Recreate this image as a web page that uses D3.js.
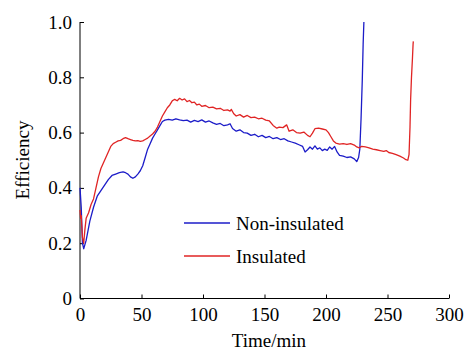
<!DOCTYPE html>
<html>
<head>
<meta charset="utf-8">
<script src="https://cdn.jsdelivr.net/npm/d3@7"></script>
<style>
html,body{margin:0;padding:0;background:#fff;}
svg{display:block;}
</style>
</head>
<body>
<svg id="chart" width="469" height="351" style="font-family:'Liberation Serif','Times New Roman',serif;font-size:19px"></svg>
<script>
// ---- data ----
const xTicks = [0, 50, 100, 150, 200, 250, 300];
const yTicks = [0, 0.2, 0.4, 0.6, 0.8, 1.0];
const yTickLabels = ["0", "0.2", "0.4", "0.6", "0.8", "1.0"];
const seriesNames = ["Non-insulated", "Insulated"];

const nonInsTime = [0,1,2,3,5,8,11,14,17,20,23,26,29,32,35,37,39,41,43,45,47,49,51,53,55,57,59,61,63,65,67,69,72,75,78,81,84,87,90,93,96,99,102,105,108,111,114,117,120,122,124,127,130,133,136,139,142,145,148,151,154,157,160,163,166,169,172,175,178,181,183,185,187,189,191,193,195,197,199,201,203,205,207,209,211,214,217,220,223,225,226.5,227.5,228.5,229.5,230.2,230.8];
const nonInsEff = [0.40,0.33,0.20,0.18,0.21,0.28,0.33,0.37,0.39,0.41,0.43,0.445,0.45,0.455,0.458,0.455,0.45,0.44,0.435,0.44,0.45,0.462,0.48,0.51,0.54,0.56,0.58,0.595,0.61,0.625,0.64,0.645,0.648,0.645,0.65,0.646,0.643,0.645,0.638,0.644,0.64,0.646,0.638,0.642,0.635,0.63,0.633,0.625,0.628,0.632,0.615,0.605,0.61,0.60,0.598,0.59,0.594,0.585,0.59,0.582,0.586,0.578,0.582,0.575,0.578,0.57,0.566,0.562,0.556,0.55,0.53,0.538,0.548,0.54,0.552,0.54,0.545,0.535,0.54,0.536,0.548,0.54,0.55,0.53,0.518,0.515,0.51,0.512,0.505,0.495,0.51,0.54,0.65,0.79,0.92,1.0];

const insTime = [0,0.5,1,2,3,4,5,7,9,11,13,15,17,19,21,23,25,27,29,31,33,35,37,39,41,43,45,47,49,51,53,55,57,59,61,63,65,67,69,71,73,75,77,79,81,83,85,87,89,91,93,95,97,99,102,105,108,111,114,117,120,122,123,125,127,130,133,136,139,142,145,148,151,154,157,160,162,165,168,170,173,176,179,182,185,187,189,191,194,197,200,202,204,206,208,211,214,217,220,223,225,227,229,232,235,238,241,244,247,249,251,254,257,260,263,265,266.5,267.5,268.3,268.8,269.5,270.3,270.8,271];
const insEff = [0.32,0.29,0.30,0.22,0.20,0.25,0.29,0.31,0.34,0.36,0.40,0.44,0.47,0.49,0.51,0.53,0.55,0.56,0.565,0.57,0.572,0.578,0.582,0.578,0.575,0.572,0.57,0.571,0.568,0.57,0.575,0.58,0.588,0.595,0.605,0.62,0.64,0.66,0.675,0.69,0.70,0.715,0.72,0.715,0.724,0.718,0.722,0.712,0.716,0.708,0.71,0.70,0.703,0.695,0.698,0.69,0.692,0.686,0.688,0.68,0.682,0.678,0.684,0.668,0.66,0.665,0.656,0.662,0.654,0.656,0.65,0.652,0.645,0.642,0.626,0.616,0.62,0.618,0.628,0.605,0.61,0.60,0.598,0.602,0.59,0.585,0.598,0.614,0.616,0.613,0.61,0.60,0.585,0.57,0.562,0.558,0.56,0.557,0.56,0.555,0.548,0.545,0.55,0.548,0.545,0.54,0.538,0.535,0.532,0.535,0.528,0.525,0.52,0.515,0.508,0.502,0.50,0.52,0.62,0.72,0.80,0.87,0.92,0.93];

const colors = ["#1c1cc8", "#e02424"];
const serif = "'Liberation Serif','Times New Roman',serif";

// ---- drawing ----
const svg = d3.select("#chart");
const x = d3.scaleLinear().domain([0, 300]).range([80, 449]);
const y = d3.scaleLinear().domain([0, 1]).range([298.5, 22]);

const xAxis = d3.axisBottom(x).tickValues(xTicks).tickSize(-4).tickPadding(9).tickFormat(d3.format("d"));
const gx = svg.append("g").attr("transform", `translate(0,${y(0)})`).call(xAxis);
gx.attr("font-family", serif).attr("font-size", 19);
gx.selectAll("text").style("font-family", serif).style("font-size", "19px").attr("fill", "#000");
gx.select(".domain").attr("d", `M${x(0)},0H${x(300)}`).attr("stroke", "#000");

const yAxis = d3.axisLeft(y).tickValues(yTicks).tickSize(-4).tickPadding(8).tickFormat((d, i) => yTickLabels[i]);
const gy = svg.append("g").attr("transform", `translate(${x(0)},0)`).call(yAxis);
gy.attr("font-family", serif).attr("font-size", 19);
gy.selectAll("text").style("font-family", serif).style("font-size", "19px").attr("fill", "#000");
gy.select(".domain").attr("d", `M0,${y(1)}V${y(0)}`).attr("stroke", "#000");

const line = d3.line().x(d => x(d[0])).y(d => y(d[1]));
const series = [
  d3.zip(nonInsTime, nonInsEff),
  d3.zip(insTime, insEff)
];
svg.selectAll("path.series").data(series).join("path")
  .attr("class", "series")
  .attr("fill", "none")
  .attr("stroke", (d, i) => colors[i])
  .attr("stroke-width", 1.3)
  .attr("stroke-linejoin", "round")
  .attr("d", line);

// axis titles
svg.append("text").attr("x", 269).attr("y", 347).attr("text-anchor", "middle")
  .style("font-family", serif).style("font-size", "19px").text("Time/min");
svg.append("text").attr("transform", "translate(29,160) rotate(-90)").attr("text-anchor", "middle")
  .style("font-family", serif).style("font-size", "19px").text("Efficiency");

// legend
const legend = svg.append("g");
seriesNames.forEach((name, i) => {
  const ly = 223 + i * 33;
  legend.append("line").attr("x1", 184).attr("x2", 230).attr("y1", ly).attr("y2", ly)
    .attr("stroke", colors[i]).attr("stroke-width", 1.3);
  legend.append("text").attr("x", 236).attr("y", ly).attr("dy", "0.35em")
    .style("font-family", serif).style("font-size", "19px").text(name);
});
</script>
</body>
</html>
